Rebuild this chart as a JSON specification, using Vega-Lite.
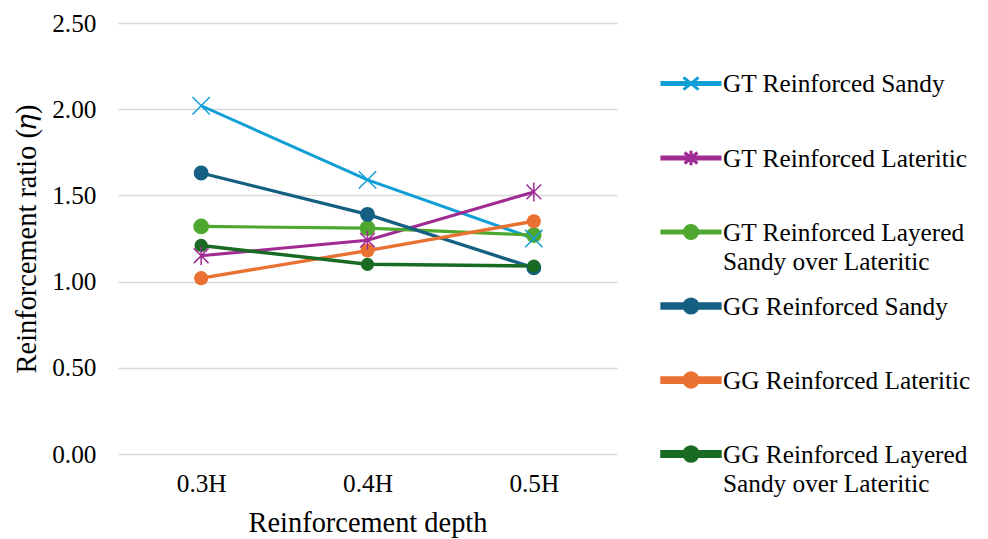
{
  "$schema": "https://vega.github.io/schema/vega-lite/v6.json",
  "autosize": "none",
  "width": 499,
  "height": 431,
  "padding": {"left": 118, "top": 23, "right": 371, "bottom": 85},
  "background": "white",
  "config": {
    "view": {"stroke": null},
    "font": "Liberation Serif"
  },
  "data": {
    "values": [
      {"series": "GT Reinforced Sandy", "depth": "0.3H", "value": 2.02},
      {"series": "GT Reinforced Sandy", "depth": "0.4H", "value": 1.59},
      {"series": "GT Reinforced Sandy", "depth": "0.5H", "value": 1.25},
      {"series": "GT Reinforced Lateritic", "depth": "0.3H", "value": 1.15},
      {"series": "GT Reinforced Lateritic", "depth": "0.4H", "value": 1.24},
      {"series": "GT Reinforced Lateritic", "depth": "0.5H", "value": 1.52},
      {"series": "GT Reinforced Layered Sandy over Lateritic", "depth": "0.3H", "value": 1.32},
      {"series": "GT Reinforced Layered Sandy over Lateritic", "depth": "0.4H", "value": 1.31},
      {"series": "GT Reinforced Layered Sandy over Lateritic", "depth": "0.5H", "value": 1.27},
      {"series": "GG Reinforced Sandy", "depth": "0.3H", "value": 1.63},
      {"series": "GG Reinforced Sandy", "depth": "0.4H", "value": 1.39},
      {"series": "GG Reinforced Sandy", "depth": "0.5H", "value": 1.08},
      {"series": "GG Reinforced Lateritic", "depth": "0.3H", "value": 1.02},
      {"series": "GG Reinforced Lateritic", "depth": "0.4H", "value": 1.18},
      {"series": "GG Reinforced Lateritic", "depth": "0.5H", "value": 1.35},
      {"series": "GG Reinforced Layered Sandy over Lateritic", "depth": "0.3H", "value": 1.21},
      {"series": "GG Reinforced Layered Sandy over Lateritic", "depth": "0.4H", "value": 1.10},
      {"series": "GG Reinforced Layered Sandy over Lateritic", "depth": "0.5H", "value": 1.09}
    ]
  },
  "encoding": {
    "x": {
      "field": "depth", "type": "ordinal",
      "scale": {"type": "point", "padding": 0.5},
      "axis": {
        "title": "Reinforcement depth", "labelAngle": 0, "grid": false, "domain": false, "ticks": false,
        "labelFont": "Liberation Serif", "labelFontSize": 25.3, "labelColor": "#000", "labelPadding": 17,
        "titleFont": "Liberation Serif", "titleFontSize": 28.4, "titleFontWeight": "normal", "titleColor": "#000", "titlePadding": 13
      }
    },
    "y": {
      "field": "value", "type": "quantitative",
      "scale": {"domain": [0, 2.5], "nice": false},
      "axis": {
        "title": "Reinforcement ratio (𝜂)", "values": [0, 0.5, 1, 1.5, 2, 2.5], "format": ".2f",
        "domain": false, "ticks": false, "gridColor": "#D9D9D9", "gridWidth": 1.3,
        "labelFont": "Liberation Serif", "labelFontSize": 25.3, "labelColor": "#000", "labelPadding": 22,
        "titleFont": "Liberation Serif", "titleFontSize": 28.4, "titleFontWeight": "normal", "titleColor": "#000", "titlePadding": 10
      }
    },
    "color": {
      "field": "series", "type": "nominal",
      "scale": {
        "domain": ["GT Reinforced Sandy", "GT Reinforced Lateritic", "GT Reinforced Layered Sandy over Lateritic", "GG Reinforced Sandy", "GG Reinforced Lateritic", "GG Reinforced Layered Sandy over Lateritic"],
        "range": ["#0F9ED5", "#A02B93", "#4EA72E", "#156082", "#E97132", "#196B24"]
      },
      "legend": {
        "title": null, "orient": "none", "legendX": 542, "legendY": 30,
        "gridAlign": "all", "rowPadding": 0, "symbolSize": 3364, "labelOffset": 1,
        "labelFont": "Liberation Serif", "labelFontSize": 25.3, "labelColor": "#000", "labelLimit": 400,
        "labelBaseline": "alphabetic",
        "labelExpr": "indexof(datum.label, 'Layered') >= 0 ? [slice(datum.label, 0, indexof(datum.label, ' Sandy over')), 'Sandy over Lateritic'] : datum.label",
        "encode": {
          "labels": {"update": {"dy": {"value": 8.5}, "lineHeight": {"value": 29}}},
          "symbols": {"update": {
            "shape": {"signal": "datum.value === 'GT Reinforced Sandy' ? 'M-1,-0.035L1,-0.035L1,0.035L-1,0.035Z M-0.26,-0.21L0.26,0.21M-0.26,0.21L0.26,-0.21' : datum.value === 'GT Reinforced Lateritic' ? 'M-1,-0.035L1,-0.035L1,0.035L-1,0.035Z M-0.22,-0.19L0.22,0.19M-0.22,0.19L0.22,-0.19M0,-0.25L0,0.25' : datum.value === 'GT Reinforced Layered Sandy over Lateritic' ? 'M-1,-0.035L1,-0.035L1,0.035L-1,0.035Z M-0.22,0A0.22,0.22 0 1,1 0.22,0A0.22,0.22 0 1,1 -0.22,0Z' : 'M-1,-0.075L1,-0.075L1,0.075L-1,0.075Z M-0.24,0A0.24,0.24 0 1,1 0.24,0A0.24,0.24 0 1,1 -0.24,0Z'"},
            "size": {"value": 3364},
            "fill": {"scale": "color", "field": "value"},
            "stroke": {"scale": "color", "field": "value"},
            "strokeWidth": {"value": 1.5},
            "opacity": {"value": 1}
          }}
        }
      }
    }
  },
  "layer": [
    {
      "mark": {"type": "line"},
      "encoding": {
        "strokeWidth": {
          "field": "series", "type": "nominal", "legend": null,
          "scale": {
            "domain": ["GT Reinforced Sandy", "GT Reinforced Lateritic", "GT Reinforced Layered Sandy over Lateritic", "GG Reinforced Sandy", "GG Reinforced Lateritic", "GG Reinforced Layered Sandy over Lateritic"],
            "range": [3, 3.5, 3.7, 5.5, 5.5, 5.5]
          }
        }
      }
    },
    {
      "transform": [{"filter": "indexof(datum.series, 'Layered') >= 0 || indexof(datum.series, 'GG') === 0"}],
      "mark": {"type": "point", "filled": true, "opacity": 1},
      "encoding": {
        "size": {
          "field": "series", "type": "nominal", "legend": null,
          "scale": {
            "domain": ["GT Reinforced Layered Sandy over Lateritic", "GG Reinforced Sandy", "GG Reinforced Lateritic", "GG Reinforced Layered Sandy over Lateritic"],
            "range": [245, 175, 175, 175]
          }
        }
      }
    },
    {
      "transform": [{"filter": "datum.series === 'GT Reinforced Sandy' || datum.series === 'GT Reinforced Lateritic'"}],
      "mark": {"type": "point", "filled": false, "strokeWidth": 1.5, "opacity": 1, "size": 300},
      "encoding": {
        "shape": {
          "field": "series", "type": "nominal", "legend": null,
          "scale": {
            "domain": ["GT Reinforced Sandy", "GT Reinforced Lateritic"],
            "range": ["M-1,-1L1,1M-1,1L1,-1", "M-0.85,-0.85L0.85,0.85M-0.85,0.85L0.85,-0.85M0,-1.1L0,1.1"]
          }
        }
      }
    }
  ]
}
